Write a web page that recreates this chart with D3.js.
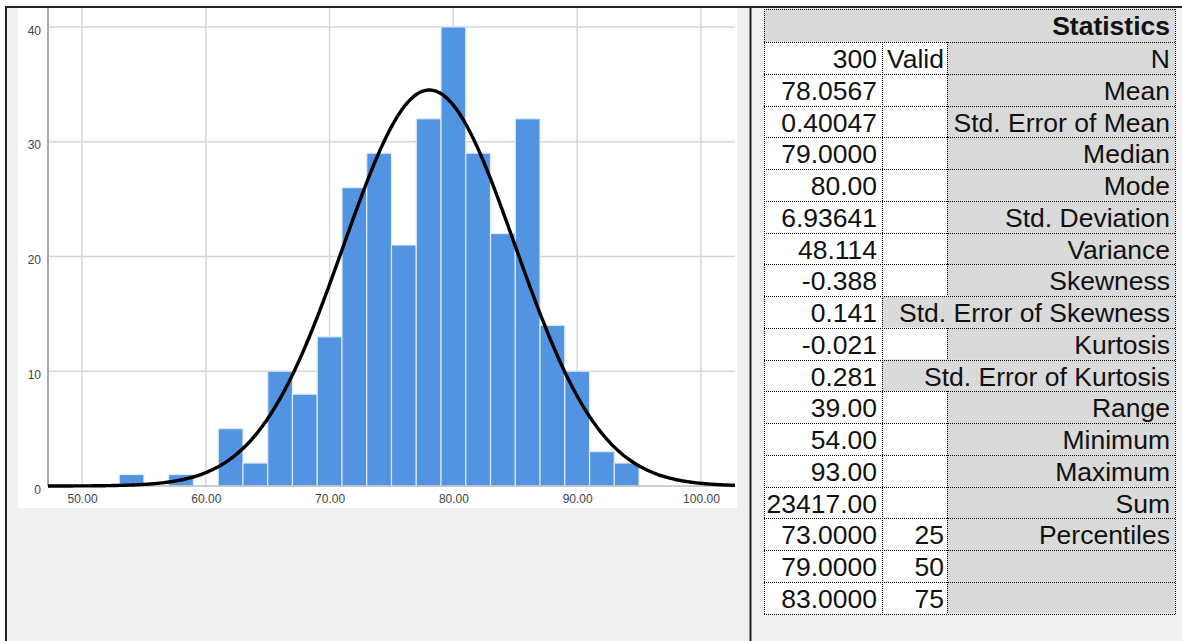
<!DOCTYPE html>
<html>
<head>
<meta charset="utf-8">
<script src="https://cdn.jsdelivr.net/npm/d3@7"></script>
<style>
  html, body { margin: 0; padding: 0; background: #ffffff; }
  svg { display: block; }
</style>
</head>
<body>
<svg id="chart" width="1182" height="641"></svg>
<script>
// ---------- DATA ----------
const binCenters = [54, 56, 58, 60, 62, 64, 66, 68, 70, 72, 74, 76, 78, 80, 82, 84, 86, 88, 90, 92, 94];
const binCounts  = [1, 0, 1, 0, 5, 2, 10, 8, 13, 26, 29, 21, 32, 40, 29, 22, 32, 14, 10, 3, 2];
const binWidth = 2;
const xTicks = [50, 60, 70, 80, 90, 100];
const yTicks = [0, 10, 20, 30, 40];
const statN = 300, statMean = 78.0567, statSD = 6.93641;

const tableTitle = "Statistics";
const colValues = ["300", "78.0567", "0.40047", "79.0000", "80.00", "6.93641", "48.114", "-0.388", "0.141", "-0.021", "0.281", "39.00", "54.00", "93.00", "23417.00", "73.0000", "79.0000", "83.0000"];
const colSub    = ["Valid", "", "", "", "", "", "", "", "", "", "", "", "", "", "", "25", "50", "75"];
const colLabels = ["N", "Mean", "Std. Error of Mean", "Median", "Mode", "Std. Deviation", "Variance", "Skewness", "Std. Error of Skewness", "Kurtosis", "Std. Error of Kurtosis", "Range", "Minimum", "Maximum", "Sum", "Percentiles", "", ""];
const spanRows  = [false, false, false, false, false, false, false, false, true, false, true, false, false, false, false, false, false, false];

// ---------- LAYOUT ----------
const svg = d3.select("#chart");
const W = 1182, H = 641;
const FONT = "'Liberation Sans', Arial, sans-serif";

// panel background
svg.append("rect").attr("x", 6).attr("y", 7).attr("width", W - 6).attr("height", H - 7).attr("fill", "#f0f0f0");

// chart white area
svg.append("rect").attr("x", 18).attr("y", 8).attr("width", 719).attr("height", 500).attr("fill", "#ffffff");

const plotL = 48, plotR = 735, plotT = 8, plotB = 486;
const x = d3.scaleLinear().domain([47.25, 102.75]).range([plotL, plotR]);
const y = d3.scaleLinear().domain([0, 41.65]).range([plotB, plotT]);

const g = svg.append("g");

// gridlines
g.selectAll(".vgrid").data(xTicks).enter().append("line")
  .attr("x1", d => x(d)).attr("x2", d => x(d))
  .attr("y1", plotT).attr("y2", plotB)
  .attr("stroke", "#d6d6d6").attr("stroke-width", 1.5);
g.selectAll(".hgrid").data(yTicks.filter(d => d > 0)).enter().append("line")
  .attr("x1", plotL).attr("x2", plotR)
  .attr("y1", d => y(d)).attr("y2", d => y(d))
  .attr("stroke", "#d6d6d6").attr("stroke-width", 1.5);

// bars
g.selectAll(".bar").data(binCenters.map((c, i) => ({c, n: binCounts[i]})).filter(d => d.n > 0))
  .enter().append("rect")
  .attr("x", d => x(d.c - binWidth / 2))
  .attr("width", d => x(d.c + binWidth / 2) - x(d.c - binWidth / 2))
  .attr("y", d => y(d.n))
  .attr("height", d => y(0) - y(d.n))
  .attr("fill", "#5294e2")
  .attr("stroke", "#dfeafa").attr("stroke-width", 1.2);

// axes lines
g.append("line").attr("x1", plotL).attr("x2", plotL).attr("y1", plotT).attr("y2", plotB)
  .attr("stroke", "#a8a8a8").attr("stroke-width", 2);
g.append("line").attr("x1", plotL).attr("x2", plotR).attr("y1", plotB).attr("y2", plotB)
  .attr("stroke", "#bdbdbd").attr("stroke-width", 1.5);

// axis labels via d3 axes
const xAxis = d3.axisBottom(x).tickValues(xTicks).tickFormat(d3.format(".2f")).tickSize(0).tickPadding(8);
const xa = svg.append("g").attr("transform", `translate(0,${plotB})`).call(xAxis);
xa.select(".domain").remove();
xa.selectAll("text").attr("font-family", FONT).attr("font-size", 12).attr("fill", "#444");

const yAxis = d3.axisLeft(y).tickValues(yTicks).tickFormat(d3.format("d")).tickSize(0).tickPadding(7);
const ya = svg.append("g").attr("transform", `translate(${plotL},0)`).call(yAxis);
ya.select(".domain").remove();
ya.selectAll("text").attr("font-family", FONT).attr("font-size", 12).attr("fill", "#444").attr("dy", "0.6em");

// normal curve from table statistics
const pts = d3.range(0, 301).map(i => {
  const v = 47.25 + (102.75 - 47.25) * i / 300;
  const z = (v - statMean) / statSD;
  const dens = statN * binWidth * Math.exp(-0.5 * z * z) / (statSD * Math.sqrt(2 * Math.PI));
  return [v, dens];
});
g.append("path").datum(pts)
  .attr("d", d3.line().x(d => x(d[0])).y(d => y(d[1])).curve(d3.curveBasis))
  .attr("fill", "none").attr("stroke", "#000").attr("stroke-width", 3.4);

// ---------- TABLE ----------
const tL = 764, c1 = 882, c2 = 947, tR = 1175;
const headT = 9, headB = 42, rowH = 31.75;
const tbl = svg.append("g");

tbl.append("rect").attr("x", tL).attr("y", headT).attr("width", tR - tL).attr("height", headB - headT).attr("fill", "#dadada");
tbl.append("text").attr("x", tR - 5).attr("y", headT + 25.5).attr("text-anchor", "end")
  .attr("font-family", FONT).attr("font-size", 26.5).attr("font-weight", "bold").attr("fill", "#111").text(tableTitle);

const rows = colValues.map((v, i) => ({v, s: colSub[i], l: colLabels[i], span: spanRows[i], top: headB + i * rowH}));
const rg = tbl.selectAll(".row").data(rows).enter().append("g");
rg.append("rect").attr("x", tL).attr("y", d => d.top).attr("width", c1 - tL).attr("height", rowH).attr("fill", "#fff");
rg.append("rect").attr("x", c1).attr("y", d => d.top).attr("width", c2 - c1).attr("height", rowH).attr("fill", d => d.span ? "#dadada" : "#fff");
rg.append("rect").attr("x", c2).attr("y", d => d.top).attr("width", tR - c2).attr("height", rowH).attr("fill", "#dadada");

const tAttr = sel => sel.attr("font-family", FONT).attr("font-size", 26.5).attr("fill", "#111").attr("text-anchor", "end");
rg.append("text").attr("x", c1 - 5).attr("y", d => d.top + 26).text(d => d.v).call(tAttr);
rg.append("text").attr("x", c2 - 3).attr("y", d => d.top + 26).text(d => d.s).call(tAttr);
rg.append("text").attr("x", tR - 5).attr("y", d => d.top + 26).text(d => d.l).call(tAttr);

// dotted lines
const dot = sel => sel.attr("stroke", "#000").attr("stroke-width", 1).attr("stroke-dasharray", "1,1").attr("shape-rendering", "crispEdges");
const hLines = [headT, headB].concat(rows.map(d => d.top + rowH));
tbl.selectAll(".hl").data(hLines).enter().append("line")
  .attr("x1", tL).attr("x2", tR).attr("y1", d => Math.round(d) + 0.5).attr("y2", d => Math.round(d) + 0.5).call(dot);
[tL, tR].forEach(xx => tbl.append("line").attr("x1", xx + 0.5).attr("x2", xx + 0.5).attr("y1", headT).attr("y2", headB + rows.length * rowH).call(dot));
tbl.append("line").attr("x1", c1 + 0.5).attr("x2", c1 + 0.5).attr("y1", headB).attr("y2", headB + rows.length * rowH).call(dot);
rg.filter(d => !d.span).append("line").attr("x1", c2 + 0.5).attr("x2", c2 + 0.5)
  .attr("y1", d => d.top).attr("y2", d => d.top + rowH).call(dot);

// ---------- FRAME ----------
svg.append("line").attr("x1", 5).attr("x2", W).attr("y1", 7).attr("y2", 7).attr("stroke", "#222").attr("stroke-width", 2);
svg.append("line").attr("x1", 6).attr("x2", 6).attr("y1", 6).attr("y2", H).attr("stroke", "#222").attr("stroke-width", 2);
svg.append("line").attr("x1", 750.5).attr("x2", 750.5).attr("y1", 6).attr("y2", H).attr("stroke", "#222").attr("stroke-width", 2);
</script>
</body>
</html>
